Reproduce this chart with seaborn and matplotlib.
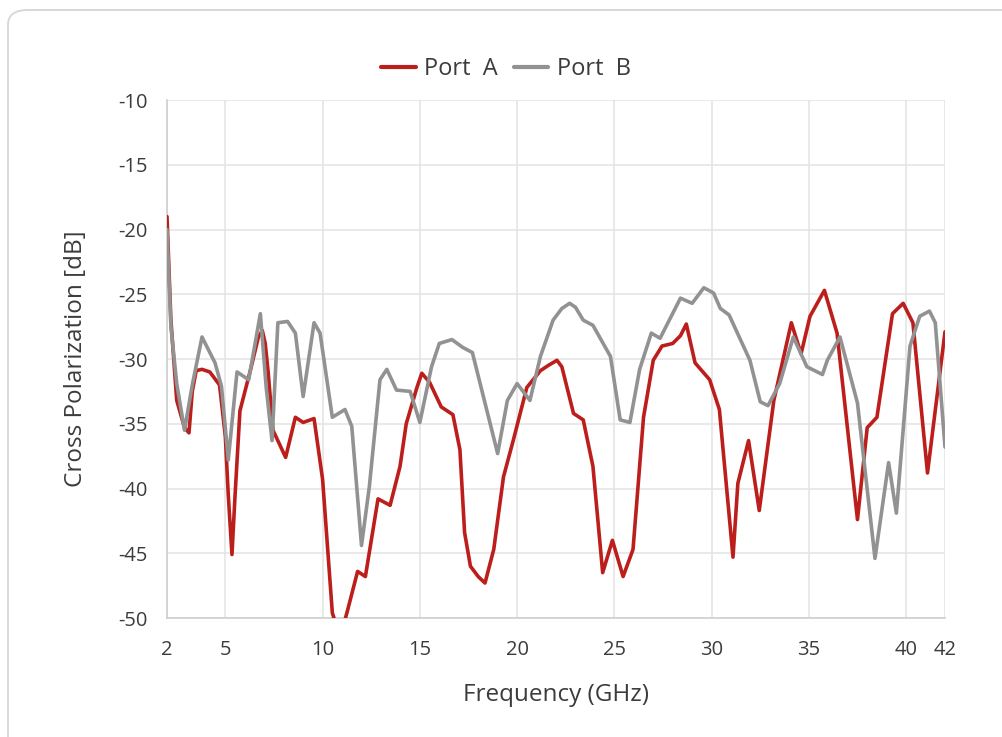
import numpy as np
import pandas as pd
import matplotlib
matplotlib.use("Agg")
import matplotlib.pyplot as plt
from matplotlib.patches import FancyBboxPatch
import seaborn as sns

# ---- data ----
freq_a = [2.0, 2.2, 2.5, 2.9, 3.13, 3.3, 3.5, 3.8, 4.2, 4.7, 5.0, 5.15, 5.34, 5.5, 5.75, 6.3, 6.7, 6.9, 7.05,
          7.2, 7.45, 8.1, 8.6, 9.0, 9.56, 10.0, 10.5, 10.9, 11.25, 11.8, 12.2, 12.85, 13.47, 13.98, 14.3,
          14.85, 15.1, 15.5, 16.1, 16.7, 17.06, 17.3, 17.6, 18.0, 18.35, 18.8, 19.3, 19.8, 20.5, 21.2, 21.6,
          22.05, 22.3, 22.9, 23.4, 23.9, 24.4, 24.9, 25.45, 25.96, 26.5, 27.0, 27.45, 28.0, 28.4, 28.7,
          29.15, 29.9, 30.4, 31.1, 31.35, 31.9, 32.45, 33.2, 34.1, 34.6, 35.06, 35.8, 36.45, 37.5, 38.0,
          38.5, 39.3, 39.85, 40.35, 41.1, 42.0]
port_a = [-19.0, -27.0, -33.2, -35.3, -35.7, -32.5, -30.9, -30.8, -31.0, -32.0, -36.0, -40.5, -45.1, -40.5,
          -34.0, -30.8, -28.3, -27.8, -28.8, -31.0, -35.5, -37.6, -34.5, -34.9, -34.6, -39.3, -49.6, -51.5,
          -49.6, -46.4, -46.8, -40.8, -41.3, -38.3, -35.0, -32.2, -31.1, -31.8, -33.7, -34.3, -37.0, -43.4,
          -46.0, -46.8, -47.3, -44.7, -39.1, -36.3, -32.2, -30.9, -30.5, -30.1, -30.6, -34.2, -34.7, -38.3,
          -46.5, -44.0, -46.8, -44.7, -34.5, -30.1, -29.0, -28.8, -28.2, -27.3, -30.3, -31.6, -33.9, -45.3,
          -39.6, -36.3, -41.7, -33.2, -27.2, -29.6, -26.7, -24.7, -28.0, -42.4, -35.3, -34.5, -26.5, -25.7,
          -27.2, -38.8, -27.9]

freq_b = [2.0, 2.2, 2.5, 2.9, 3.3, 3.8, 4.47, 4.8, 5.15, 5.6, 6.2, 6.8, 7.1, 7.4, 7.7, 8.2, 8.6, 9.0, 9.56,
          9.87, 10.5, 11.15, 11.5, 12.0, 12.4, 12.95, 13.3, 13.8, 14.5, 15.0, 15.6, 16.0, 16.65, 17.2, 17.7,
          18.1, 19.0, 19.5, 20.0, 20.66, 21.2, 21.85, 22.3, 22.7, 23.0, 23.4, 23.9, 24.8, 25.3, 25.8, 26.3,
          26.9, 27.35, 28.4, 29.0, 29.6, 30.1, 30.45, 30.9, 31.97, 32.5, 32.9, 33.5, 34.2, 34.9, 35.7, 35.95,
          36.6, 37.5, 38.4, 39.1, 39.5, 40.2, 40.7, 41.2, 41.5, 42.0]
port_b = [-20.0, -27.5, -31.9, -35.5, -32.0, -28.3, -30.3, -32.1, -37.8, -31.0, -31.6, -26.5, -32.2, -36.3,
          -27.2, -27.1, -28.0, -32.9, -27.2, -28.0, -34.5, -33.9, -35.2, -44.4, -39.9, -31.6, -30.8, -32.4,
          -32.5, -34.9, -30.6, -28.8, -28.5, -29.1, -29.5, -31.9, -37.3, -33.2, -31.9, -33.2, -29.8, -27.0,
          -26.1, -25.7, -26.0, -27.0, -27.4, -29.8, -34.7, -34.9, -30.8, -28.0, -28.4, -25.3, -25.7, -24.5,
          -24.9, -26.1, -26.6, -30.1, -33.3, -33.6, -31.9, -28.3, -30.6, -31.2, -30.1, -28.3, -33.4, -45.4,
          -38.0, -41.9, -29.0, -26.7, -26.3, -27.2, -36.8]

x_ticks = [2, 5, 10, 15, 20, 25, 30, 35, 40, 42]
y_ticks = [-50, -45, -40, -35, -30, -25, -20, -15, -10]
series_names = ["Port  A", "Port  B"]
colors = ["#BC1F1B", "#929292"]

df = pd.concat([
    pd.DataFrame({"freq": freq_a, "val": port_a, "series": series_names[0]}),
    pd.DataFrame({"freq": freq_b, "val": port_b, "series": series_names[1]}),
])

sns.set_theme(style="white")
plt.rcParams["font.family"] = ["Open Sans", "DejaVu Sans"]
text_color = "#3c3c3c"

fig = plt.figure(figsize=(10.03, 7.37), dpi=100)
card = FancyBboxPatch((8 / 1003, -0.05), 1 - 8 / 1003 + 0.02, 1 - 10 / 737 + 0.05,
                      boxstyle="round,pad=0,rounding_size=0.02", transform=fig.transFigure,
                      facecolor="white", edgecolor="#d6d6d6", linewidth=1.3, zorder=-10)
fig.patches.append(card)

ax = fig.add_axes([167 / 1003, 1 - 618 / 737, (945 - 167) / 1003, (618 - 100) / 737])
ax.set_facecolor("none")
ax.set_zorder(1)

sns.lineplot(data=df, x="freq", y="val", hue="series", palette=colors, linewidth=2.6,
             ax=ax, sort=False, estimator=None, zorder=3)
for ln in ax.get_lines():
    ln.set_solid_joinstyle("round")
    ln.set_solid_capstyle("round")

ax.set_xlim(2, 42)
ax.set_ylim(-50, -10)
ax.set_xticks(x_ticks)
ax.set_yticks(y_ticks)
ax.set_xticklabels([str(t) for t in x_ticks])
ax.set_yticklabels([str(t) for t in y_ticks])
ax.grid(True, color="#e3e3e3", linewidth=1.1, zorder=0)
ax.set_axisbelow(True)
for s in ["top", "right"]:
    ax.spines[s].set_visible(False)
for s in ["left", "bottom"]:
    ax.spines[s].set_color("#cfcfcf")
    ax.spines[s].set_linewidth(1.2)
ax.tick_params(axis="y", length=14, width=1.1, color="#e0e0e0",
               labelsize=14.5, labelcolor=text_color, pad=0)
ax.tick_params(axis="x", length=10, width=1.1, color="#e0e0e0",
               labelsize=14.5, labelcolor=text_color, pad=6)

ax.set_xlabel("Frequency (GHz)", fontsize=17.5, color=text_color)
ax.set_ylabel("Cross Polarization [dB]", fontsize=17.5, color=text_color)
ax.xaxis.set_label_coords(0.5, -0.126)
ax.yaxis.set_label_coords(-0.101, 0.5)

handles, labels = ax.get_legend_handles_labels()
leg = fig.legend(handles, labels, loc="center", bbox_to_anchor=(506 / 1003, 1 - 69 / 737), ncol=2,
                 frameon=False, fontsize=17, handlelength=1.45, handletextpad=0.35,
                 columnspacing=0.7, borderaxespad=0)
ax.get_legend().remove()
for t in leg.get_texts():
    t.set_color(text_color)
for l in leg.get_lines():
    l.set_linewidth(3)

fig.savefig("out.png", dpi=100, facecolor="white")
